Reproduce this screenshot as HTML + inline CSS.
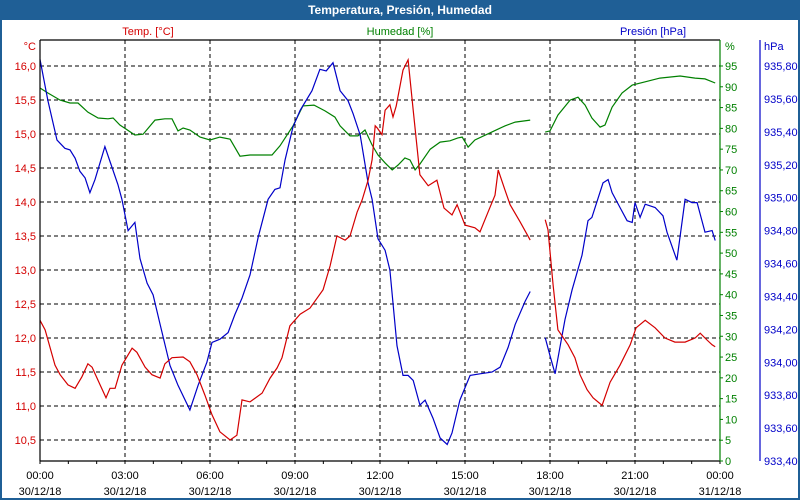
<!DOCTYPE html>
<html><head><meta charset="utf-8"><style>
html,body{margin:0;padding:0;background:#fff;}
#wrap{position:relative;width:800px;height:500px;overflow:hidden;font-family:"Liberation Sans",sans-serif;}
svg text{font-family:"Liberation Sans",sans-serif;font-size:11px;}
</style></head><body>
<div id="wrap">
<svg id="chart" width="800" height="500">
<rect x="0" y="0" width="800" height="500" fill="#1f5f96"/>
<rect x="2" y="20" width="796" height="478" fill="#fff"/>
<text x="400" y="14" text-anchor="middle" fill="#fff" font-weight="bold" style="font-size:12px">Temperatura, Presión, Humedad</text>
<text x="148" y="35" text-anchor="middle" fill="#d40000">Temp. [°C]</text>
<text x="400" y="35" text-anchor="middle" fill="#008000">Humedad [%]</text>
<text x="653" y="35" text-anchor="middle" fill="#0000c8">Presión [hPa]</text>
<text x="36" y="50" text-anchor="end" fill="#d40000">°C</text>
<text x="725" y="50" fill="#008000">%</text>
<text x="764" y="50" fill="#0000c8">hPa</text>
<g id="grid"></g><g id="series"></g><g id="axes"></g>
</svg>
</div>
<script>
const N=null;
const tempTicks=[10.5,11.0,11.5,12.0,12.5,13.0,13.5,14.0,14.5,15.0,15.5,16.0];
const humTicks=[0,5,10,15,20,25,30,35,40,45,50,55,60,65,70,75,80,85,90,95];
const presTicks=[933.40,933.60,933.80,934.00,934.20,934.40,934.60,934.80,935.00,935.20,935.40,935.60,935.80];
const timeLabels=["00:00","03:00","06:00","09:00","12:00","15:00","18:00","21:00","00:00"];
const dateLabels=["30/12/18","30/12/18","30/12/18","30/12/18","30/12/18","30/12/18","30/12/18","30/12/18","31/12/18"];
const tempT=[0,0.18,0.53,0.71,0.99,1.24,1.48,1.69,1.84,2.12,2.33,2.47,2.65,2.89,3.25,3.42,3.71,3.95,4.24,4.41,4.66,5.05,5.29,5.54,5.82,6.07,6.35,6.71,6.95,7.13,7.41,7.84,8.12,8.37,8.54,8.82,9.18,9.53,9.99,10.24,10.48,10.77,10.94,11.19,11.37,11.58,11.72,11.83,11.90,12.07,12.18,12.35,12.46,12.57,12.81,12.99,13.17,13.41,13.70,14.01,14.26,14.54,14.72,15.00,15.35,15.53,15.81,16.06,16.17,16.41,16.59,16.94,17.30,17.5,17.83,17.93,18.11,18.28,18.64,18.88,19.06,19.31,19.52,19.84,20.12,20.47,20.83,21.04,21.36,21.71,22.06,22.41,22.77,23.12,23.30,23.54,23.72,23.83];
const tempV=[12.26,12.12,11.60,11.46,11.31,11.26,11.43,11.62,11.57,11.31,11.12,11.26,11.26,11.60,11.85,11.79,11.57,11.46,11.41,11.62,11.71,11.72,11.65,11.46,11.16,10.87,10.62,10.50,10.57,11.09,11.06,11.19,11.41,11.56,11.71,12.18,12.35,12.44,12.71,13.06,13.50,13.44,13.50,13.85,14.03,14.32,14.62,15.12,15.09,14.99,15.35,15.43,15.25,15.41,15.94,16.09,15.35,14.40,14.24,14.32,13.91,13.81,13.96,13.66,13.62,13.56,13.85,14.10,14.47,14.18,13.96,13.71,13.44,N,13.74,13.59,12.78,12.12,11.90,11.71,11.46,11.24,11.12,11.01,11.35,11.60,11.90,12.15,12.26,12.15,12.00,11.94,11.94,12.00,12.07,11.97,11.90,11.87];
const humT=[0,0.28,0.71,1.06,1.34,1.69,2.05,2.40,2.58,2.82,3.35,3.64,4.06,4.41,4.66,4.87,5.05,5.29,5.65,6.00,6.35,6.71,7.06,7.41,7.84,8.19,8.47,8.93,9.28,9.67,10.06,10.41,10.59,10.94,11.22,11.47,11.72,11.93,12.18,12.43,12.64,12.88,13.06,13.24,13.41,13.77,14.12,14.47,14.75,14.90,15.11,15.35,15.88,16.41,16.77,17.30,17.5,17.83,18.00,18.28,18.71,18.99,19.24,19.48,19.77,19.94,20.19,20.54,20.90,21.36,21.88,22.59,23.12,23.47,23.83];
const humV=[89.7,88.5,86.8,86.1,86.1,83.9,82.5,82.3,82.5,80.8,78.4,78.6,82.0,82.3,82.3,79.4,80.1,79.6,77.9,77.2,77.9,77.4,73.3,73.6,73.6,73.6,75.8,80.6,85.4,85.6,84.2,82.7,80.6,78.2,78.2,79.6,76.0,73.6,71.7,70.0,71.2,72.9,72.4,70.0,71.4,75.0,76.7,77.0,77.7,77.9,75.5,77.2,78.9,80.6,81.5,82.0,N,79.1,79.4,83.2,86.8,87.5,85.6,82.5,80.3,80.8,85.1,88.5,90.4,91.2,92.1,92.6,92.1,91.9,90.9];
const presT=[0,0.28,0.60,0.88,1.06,1.24,1.41,1.59,1.76,1.94,2.29,2.47,2.75,2.89,3.11,3.35,3.53,3.78,3.99,4.24,4.59,4.87,5.29,5.58,5.89,6.07,6.35,6.64,6.88,7.13,7.41,7.70,8.05,8.29,8.47,8.65,8.93,9.18,9.60,9.88,10.10,10.34,10.59,10.87,11.05,11.30,11.58,11.72,11.93,12.18,12.35,12.60,12.81,12.99,13.17,13.41,13.59,13.87,14.12,14.37,14.54,14.82,15.18,15.53,15.95,16.24,16.52,16.77,17.12,17.30,17.5,17.83,18.00,18.18,18.53,18.78,19.13,19.34,19.48,19.87,20.05,20.19,20.47,20.72,20.90,21.00,21.18,21.36,21.71,21.99,22.13,22.48,22.77,23.01,23.19,23.47,23.72,23.83];
const presV=[935.84,935.59,935.35,935.30,935.29,935.24,935.16,935.12,935.03,935.11,935.31,935.22,935.08,934.99,934.80,934.85,934.63,934.48,934.41,934.23,933.98,933.86,933.71,933.86,934.00,934.12,934.14,934.18,934.29,934.39,934.53,934.76,934.99,935.05,935.06,935.23,935.43,935.53,935.65,935.78,935.77,935.82,935.65,935.59,935.51,935.38,935.09,934.99,934.75,934.68,934.56,934.10,933.92,933.92,933.89,933.74,933.77,933.66,933.54,933.50,933.57,933.77,933.92,933.93,933.94,933.97,934.09,934.23,934.37,934.43,N,934.15,934.04,933.93,934.26,934.44,934.65,934.86,934.88,935.09,935.11,935.03,934.94,934.86,934.85,934.97,934.88,934.96,934.94,934.89,934.79,934.62,934.99,934.97,934.97,934.79,934.80,934.74];

const L=40,R=720,T=40,B=461;
const xS=t=>L+t*(R-L)/24;
const yTemp=v=>66+(16-v)*68;
const yHum=v=>B-v*(B-66)/95;
const yPres=v=>66+(935.8-v)*(B-66)/2.4;
const NS="http://www.w3.org/2000/svg";
function mk(tag,attrs,parent){const e=document.createElementNS(NS,tag);for(const k in attrs)e.setAttribute(k,attrs[k]);parent.appendChild(e);return e;}
const grid=document.getElementById('grid'),ser=document.getElementById('series'),axes=document.getElementById('axes');
const fmt=(v,d)=>v.toFixed(d).replace('.',',');

tempTicks.forEach(v=>{
  const y=yTemp(v);
  const g=mk('line',{x1:L,x2:R,y1:y,y2:y,stroke:'#000','stroke-dasharray':'4,3'},grid);
  
  
  const t=mk('text',{x:36,y:y+4,'text-anchor':'end',fill:'#d40000'},axes);
  t.textContent=fmt(v,1);
  
  
});
for(let i=1;i<8;i++){
  const x=xS(i*3);
  const g=mk('line',{x1:x,x2:x,y1:T,y2:B,stroke:'#000','stroke-dasharray':'4,3'},grid);
  
  
}
for(let h=0;h<=24;h++){
  const x=xS(h);
  const tk=mk('line',{x1:x,x2:x,y1:B,y2:B+3,stroke:'#000'},axes);
  
  
}
timeLabels.forEach((s,i)=>{
  const x=xS(i*3);
  const a=mk('text',{x:x,y:479,'text-anchor':'middle',fill:'#000'},axes);
  a.textContent=s;
  
  
  const b=mk('text',{x:x,y:495,'text-anchor':'middle',fill:'#000'},axes);
  b.textContent=dateLabels[i];
  
  
});
humTicks.forEach(v=>{
  const y=yHum(v);
  const tk=mk('line',{x1:R,x2:R+3,y1:y,y2:y,stroke:'#008000'},axes);
  
  
  const t=mk('text',{x:725,y:y+4,fill:'#008000'},axes);
  t.textContent=String(v);
  
  
});
presTicks.forEach(v=>{
  const y=yPres(v);
  const t=mk('text',{x:764,y:y+4,fill:'#0000c8'},axes);
  t.textContent=fmt(v,2);
  
  
});
const ax=[[L,T,R,T,'#000','plot-top-border'],[L,T,L,B,'#000','temp-axis'],[L,B,R,B,'#000','x-axis'],[R,T,R,B,'#008000','humidity-axis'],[760,T,760,B,'#0000c8','pressure-axis']];
ax.forEach(a=>{
  const l=mk('line',{x1:a[0],y1:a[1],x2:a[2],y2:a[3],stroke:a[4],'stroke-width':1.2},axes);
  
  
});
function path(ts,vs,yf){let d='',pen=false;for(let i=0;i<ts.length;i++){if(vs[i]===null){pen=false;continue;}d+=(pen?'L':'M')+xS(ts[i]).toFixed(1)+','+yf(vs[i]).toFixed(1);pen=true;}return d;}
const h=mk('path',{d:path(humT,humV,yHum),fill:'none',stroke:'#008000','stroke-width':1.2},ser);


const p=mk('path',{d:path(presT,presV,yPres),fill:'none',stroke:'#0000c8','stroke-width':1.2},ser);


const tl=mk('path',{d:path(tempT,tempV,yTemp),fill:'none',stroke:'#d40000','stroke-width':1.2},ser);


</script>
</body></html>
